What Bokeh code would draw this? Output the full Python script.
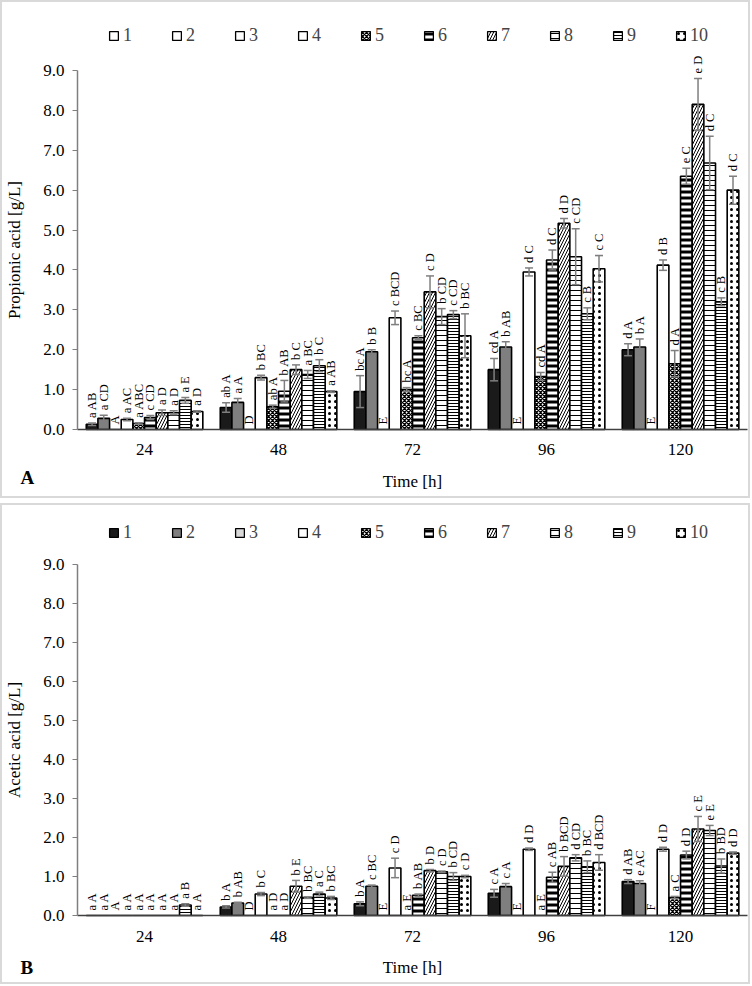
import math
from bokeh.plotting import figure
from bokeh.models import (ColumnDataSource, Range1d, FixedTicker, Legend,
                          LegendItem, Whisker, TeeHead, Label)
from bokeh.transform import dodge
from bokeh.layouts import column
from bokeh.embed import file_html
from bokeh.resources import INLINE

# ---------------- data ----------------
times = ["24", "48", "72", "96", "120"]
series_names = ["1", "2", "3", "4", "5", "6", "7", "8", "9", "10"]
y_ticks = [0, 1, 2, 3, 4, 5, 6, 7, 8, 9]
y_tick_labels = ["0.0", "1.0", "2.0", "3.0", "4.0", "5.0", "6.0", "7.0", "8.0", "9.0"]

# rows = time (24..120 h), columns = series 1..10
propionic_mean = [
    [0.13, 0.28, 0.00, 0.25, 0.15, 0.30, 0.42, 0.42, 0.73, 0.45],
    [0.55, 0.68, 0.00, 1.30, 0.57, 0.96, 1.50, 1.38, 1.60, 0.95],
    [0.95, 1.95, 0.00, 2.80, 1.00, 2.30, 3.45, 2.83, 2.88, 2.35],
    [1.50, 2.07, 0.00, 3.95, 1.33, 4.25, 5.17, 4.33, 2.90, 4.03],
    [2.00, 2.07, 0.00, 4.12, 1.65, 6.35, 8.15, 6.68, 3.20, 6.00],
]
propionic_sd = [
    [0.03, 0.08, 0.00, 0.03, 0.02, 0.05, 0.07, 0.05, 0.07, 0.02],
    [0.12, 0.10, 0.00, 0.06, 0.04, 0.27, 0.12, 0.10, 0.15, 0.02],
    [0.40, 0.05, 0.00, 0.17, 0.05, 0.05, 0.40, 0.20, 0.10, 0.55],
    [0.28, 0.13, 0.00, 0.10, 0.10, 0.25, 0.12, 0.70, 0.15, 0.33],
    [0.15, 0.20, 0.00, 0.13, 0.33, 0.20, 0.65, 0.67, 0.10, 0.35],
]
propionic_letters = [
    ["a AB", "a CD", "A", "a AC", "a ABC", "c CD", "a D", "a D", "a E", "a D"],
    ["ab A", "a A", "D", "b BC", "ab A", "b AB", "b C", "a BC", "b C", "a AB"],
    ["bc A", "b B", "E", "c BCD", "bc A", "c BC", "c D", "b CD", "c CD", "b BC"],
    ["cd A", "b AB", "E", "d C", "cd A", "d C", "d D", "c CD", "c B", "c C"],
    ["d A", "b A", "E", "d B", "d A", "e C", "e D", "d C", "c B", "d C"],
]

acetic_mean = [
    [0.00, 0.00, 0.00, 0.00, 0.00, 0.00, 0.00, 0.00, 0.27, 0.00],
    [0.22, 0.32, 0.00, 0.55, 0.00, 0.00, 0.75, 0.46, 0.55, 0.45],
    [0.30, 0.75, 0.00, 1.22, 0.00, 0.52, 1.15, 1.12, 1.00, 1.00],
    [0.57, 0.74, 0.00, 1.70, 0.00, 0.98, 1.26, 1.48, 1.25, 1.36],
    [0.87, 0.82, 0.00, 1.70, 0.46, 1.55, 2.22, 2.18, 1.27, 1.60],
]
acetic_sd = [
    [0.00, 0.00, 0.00, 0.00, 0.00, 0.00, 0.00, 0.00, 0.03, 0.00],
    [0.03, 0.02, 0.00, 0.04, 0.00, 0.00, 0.15, 0.02, 0.05, 0.04],
    [0.05, 0.03, 0.00, 0.25, 0.00, 0.03, 0.03, 0.02, 0.10, 0.03],
    [0.10, 0.08, 0.00, 0.03, 0.00, 0.13, 0.25, 0.08, 0.15, 0.20],
    [0.05, 0.07, 0.00, 0.05, 0.03, 0.10, 0.32, 0.13, 0.18, 0.03],
]
acetic_letters = [
    ["a A", "a A", "A", "a A", "a A", "a A", "a A", "a A", "a B", "a A"],
    ["b A", "b AB", "D", "b C", "a D", "a D", "b E", "b BC", "a C", "b BC"],
    ["b A", "c BC", "E", "c D", "a E", "b AB", "b D", "c D", "b CD", "c D"],
    ["c A", "c A", "E", "d D", "a E", "c AB", "b BCD", "d CD", "b BC", "d BCD"],
    ["d AB", "e AC", "F", "d D", "a C", "d D", "c E", "e E", "b BD", "d D"],
]

# ---------------- styles ----------------
FONT = "Liberation Serif"
series_style = [
    dict(fill_color="#1a1a1a"),
    dict(fill_color="#7f7f7f"),
    dict(fill_color="#d9d9d9"),
    dict(fill_color="white"),
    dict(fill_color="white", hatch_pattern="diagonal_cross", hatch_scale=4, hatch_weight=1.3, hatch_color="black"),
    dict(fill_color="white", hatch_pattern="horizontal_line", hatch_scale=6, hatch_weight=3, hatch_color="black"),
    dict(fill_color="white", hatch_pattern="right_diagonal_line", hatch_scale=6, hatch_weight=1, hatch_color="black"),
    dict(fill_color="white", hatch_pattern="horizontal_line", hatch_scale=5, hatch_weight=1, hatch_color="black"),
    dict(fill_color="white", hatch_pattern="horizontal_line", hatch_scale=3, hatch_weight=1, hatch_color="black"),
    dict(fill_color="white", hatch_pattern="dot", hatch_scale=6, hatch_weight=1, hatch_color="black"),
]
BAR_W = 0.087
ERR_COLOR = "#7f7f7f"
W = 750
X_LO, X_HI = -1.06, 4.537


def make_panel(means, sds, letters, ylabel, tag, legend_plain, height,
               y_lo, y_hi, legend_vy, tag_y):
    group_pos = list(range(len(times)))
    p = figure(x_range=Range1d(X_LO, X_HI), y_range=Range1d(y_lo, y_hi),
               width=W, height=height, output_backend="svg", toolbar_location=None,
               min_border=0)
    p.outline_line_color = None
    p.xgrid.visible = False
    p.ygrid.visible = False
    p.background_fill_color = "white"
    p.border_fill_color = "white"
    p.styles = {"border": "2px solid #d9d9d9"}

    legend_items = []
    for s in range(len(series_names)):
        off = (s - 4.5) * BAR_W
        top = [means[t][s] for t in range(len(times))]
        err = [sds[t][s] for t in range(len(times))]
        lab = [letters[t][s] for t in range(len(times))]
        upper = [a + b for a, b in zip(top, err)]
        src = ColumnDataSource(dict(gx=group_pos, top=top, upper=upper, lab=lab))
        st = series_style[s]
        p.vbar(x=dodge("gx", off), top="top", bottom=0, width=BAR_W,
               source=src, line_color="black", line_width=1.6, **st)

        idx = [i for i in range(len(times)) if err[i] > 0]
        if idx:
            wsrc = ColumnDataSource(dict(
                gx=[group_pos[i] for i in idx],
                upper=[top[i] + err[i] for i in idx],
                lower=[top[i] - err[i] for i in idx]))
            wh = Whisker(source=wsrc, base=dodge("gx", off),
                         upper="upper", lower="lower", dimension="height",
                         line_color=ERR_COLOR, line_width=1.5, level="annotation",
                         upper_head=TeeHead(size=8, line_color=ERR_COLOR, line_width=1.5),
                         lower_head=TeeHead(size=8, line_color=ERR_COLOR, line_width=1.5))
            p.add_layout(wh)

        p.text(x=dodge("gx", off), y="upper", text="lab", source=src,
               angle=math.pi / 2, text_align="left", text_baseline="middle",
               y_offset=-5, text_font=FONT, text_font_size="12.5px", text_color="black")

        # legend swatch renderer: lies far outside the visible ranges
        lst = dict(st)
        if legend_plain and s < 4:
            lst["fill_color"] = "white"
        proxy = p.vbar(x=[-100], top=[-99], bottom=[-100], width=BAR_W,
                       line_color="black", line_width=1.3, **lst)
        legend_items.append(LegendItem(label=series_names[s], renderers=[proxy]))

    leg = Legend(items=legend_items, orientation="horizontal", location=(106, legend_vy),
                 glyph_width=11, glyph_height=11, label_standoff=4, label_width=0,
                 label_height=18, spacing=39, padding=0, margin=0,
                 label_text_font=FONT, label_text_font_size="18px",
                 background_fill_alpha=0, border_line_color=None)
    p.add_layout(leg)

    # y axis drawn at the left edge of the first group
    yax = p.yaxis[0]
    yax.fixed_location = -0.5
    yax.ticker = FixedTicker(ticks=y_ticks)
    yax.bounds = (0, 9)
    yax.major_label_overrides = {t: l for t, l in zip(y_ticks, y_tick_labels)}
    yax.minor_tick_line_color = None
    yax.major_tick_in = 0
    yax.major_tick_out = 5
    yax.major_tick_line_color = "#7f7f7f"
    yax.axis_line_color = "#7f7f7f"
    yax.axis_line_width = 1.5
    yax.major_label_standoff = 8
    yax.major_label_text_font = FONT
    yax.major_label_text_font_size = "17px"
    yax.major_label_text_color = "black"
    yax.axis_label = ylabel
    yax.axis_label_text_font = FONT
    yax.axis_label_text_font_size = "17px"
    yax.axis_label_text_font_style = "normal"
    yax.axis_label_text_color = "black"
    yax.axis_label_standoff = 16

    # x axis drawn at y = 0
    xax = p.xaxis[0]
    xax.fixed_location = 0
    xax.ticker = FixedTicker(ticks=group_pos)
    xax.bounds = (-0.5, len(times) - 0.5)
    xax.major_label_overrides = {g: t for g, t in zip(group_pos, times)}
    xax.major_tick_line_color = None
    xax.minor_tick_line_color = None
    xax.major_tick_in = 0
    xax.major_tick_out = 0
    xax.axis_line_color = "#404040"
    xax.axis_line_width = 1.5
    xax.major_label_standoff = 15
    xax.major_label_text_font = FONT
    xax.major_label_text_font_size = "17px"
    xax.major_label_text_color = "black"
    xax.axis_label = "Time [h]"
    xax.axis_label_text_font = FONT
    xax.axis_label_text_font_size = "17px"
    xax.axis_label_text_font_style = "normal"
    xax.axis_label_text_color = "black"
    xax.axis_label_standoff = 13

    p.add_layout(Label(x=18, y=tag_y, x_units="screen", y_units="screen", text=tag,
                       text_font=FONT, text_font_size="19px", text_font_style="bold",
                       text_baseline="middle", text_align="left", text_color="black"))
    return p


pA = make_panel(propionic_mean, propionic_sd, propionic_letters, "Propionic acid [g/L]", "A",
                True, 498, -1.78, 10.705, 454, 23)
pB = make_panel(acetic_mean, acetic_sd, acetic_letters, "Acetic acid [g/L]", "B",
                False, 481, -1.82, 10.513, 443, 19)

layout = column(pA, pB, spacing=5)
open("out.html", "w").write(file_html(layout, INLINE))
